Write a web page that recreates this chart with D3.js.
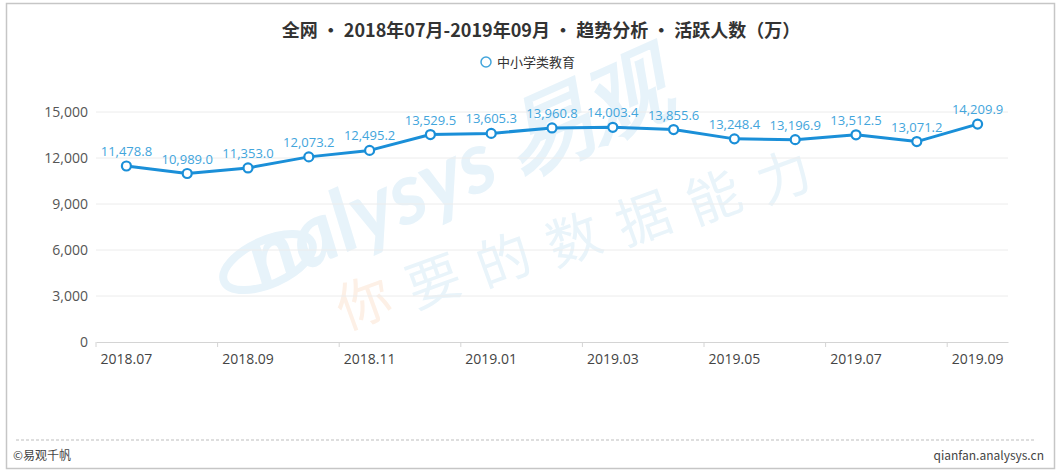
<!DOCTYPE html>
<html>
<head>
<meta charset="utf-8">
<script src="https://cdn.jsdelivr.net/npm/d3@7"></script>
<style>
  html, body { margin: 0; padding: 0; background: #fff; }
  svg { display: block; font-family: "Noto Sans CJK SC", "Noto Sans", sans-serif; }
</style>
</head>
<body>
<svg width="1061" height="475"></svg>
<script>
//  Data
const months = ['2018.07', '2018.08', '2018.09', '2018.10', '2018.11', '2018.12',
                '2019.01', '2019.02', '2019.03', '2019.04', '2019.05', '2019.06',
                '2019.07', '2019.08', '2019.09'];
const activeUsers = [11478.8, 10989.0, 11353.0, 12073.2, 12495.2, 13529.5,
                     13605.3, 13960.8, 14003.4, 13855.6, 13248.4, 13196.9,
                     13512.5, 13071.2, 14209.9];
const yTicks = [0, 3000, 6000, 9000, 12000, 15000];
const xTickLabels = ['2018.07', '2018.09', '2018.11', '2019.01', '2019.03', '2019.05', '2019.07', '2019.09'];
const seriesName = '中小学类教育';
const titleText = '全网 • 2018年07月-2019年09月 • 趋势分析 • 活跃人数（万）';

const svg = d3.select('svg');
const lineColor = '#1a8fd8';
const labelColor = '#42a5dc';

//  Frame
svg.append('rect')
    .attr('x', 6.5).attr('y', 3.5)
    .attr('width', 1048).attr('height', 465)
    .attr('fill', 'white')
    .attr('stroke', '#c6c6c6')
    .attr('stroke-width', 1.5);

//  Watermark (faint, behind everything)
const wm = svg.append('g').attr('id', 'watermark');
wm.append('text')
    .attr('transform', 'translate(262,290) rotate(-24)')
    .attr('font-size', 86)
    .attr('font-weight', 'bold')
    .attr('font-style', 'italic')
    .attr('font-family', 'Lato, sans-serif')
    .attr('fill', '#e7f3fa')
    .text('nalysys 易观');
wm.append('ellipse')
    .attr('transform', 'translate(268,262) rotate(-24)')
    .attr('rx', 48).attr('ry', 22)
    .attr('fill', 'none')
    .attr('stroke', '#e7f3fa')
    .attr('stroke-width', 8);
const slogan = '你要的数据能力'.split('');
slogan.forEach((ch, i) => {
    wm.append('text')
        .attr('transform', `translate(${345 + i * 70},${330 - i * 21}) rotate(-20)`)
        .attr('font-size', 54)
        .attr('fill', i === 0 ? '#fdf0e6' : '#e9f4fa')
        .text(ch);
});

//  Title and legend
svg.append('text')
    .attr('x', 541).attr('y', 37)
    .attr('text-anchor', 'middle')
    .attr('font-size', 18)
    .attr('font-weight', 'bold')
    .attr('fill', '#333')
    .text(titleText);

const legend = svg.append('g').attr('transform', 'translate(486,62)');
legend.append('circle')
    .attr('r', 5)
    .attr('fill', 'white')
    .attr('stroke', labelColor)
    .attr('stroke-width', 1.5);
legend.append('text')
    .attr('x', 11).attr('y', 5)
    .attr('font-size', 13)
    .attr('fill', '#333')
    .text(seriesName);

//  Scales
const x = d3.scaleBand().domain(months).range([96, 1008]).padding(0);
const y = d3.scaleLinear().domain([0, 15000]).range([342, 112]);

//  Grid
svg.append('g')
    .selectAll('line')
    .data(yTicks.filter(d => d > 0))
    .join('line')
    .attr('x1', 96).attr('x2', 1008)
    .attr('y1', d => y(d)).attr('y2', d => y(d))
    .attr('stroke', '#ececec')
    .attr('stroke-width', 1);

//  Y axis
const yAxis = svg.append('g')
    .attr('transform', 'translate(96,0)')
    .call(d3.axisLeft(y).tickValues(yTicks).tickSize(0).tickPadding(8).tickFormat(d3.format(',')));
yAxis.select('.domain').remove();
yAxis.selectAll('text')
    .attr('font-size', 14)
    .attr('fill', '#555')
    .attr('font-family', '"Open Sans", "Noto Sans", sans-serif');

//  X axis: labels every other month, ticks on the band edge
const xAxis = svg.append('g')
    .attr('transform', 'translate(0,342)')
    .call(d3.axisBottom(x).tickValues(xTickLabels).tickSize(0).tickPadding(12));
xAxis.select('.domain').attr('stroke', '#d4d4d4');
xAxis.selectAll('text')
    .attr('font-size', 14)
    .attr('fill', '#444')
    .attr('font-family', '"Open Sans", "Noto Sans", sans-serif');
xAxis.selectAll('.tick')
    .append('line')
    .attr('x1', -x.bandwidth() / 2).attr('x2', -x.bandwidth() / 2)
    .attr('y1', 0).attr('y2', 5)
    .attr('stroke', '#d4d4d4');

//  Line
const lineGen = d3.line()
    .x((d, i) => x(months[i]) + x.bandwidth() / 2)
    .y(d => y(d));

svg.append('path')
    .datum(activeUsers)
    .attr('d', lineGen)
    .attr('fill', 'none')
    .attr('stroke', lineColor)
    .attr('stroke-width', 3)
    .attr('stroke-linejoin', 'round');

svg.append('g')
    .selectAll('circle')
    .data(activeUsers)
    .join('circle')
    .attr('cx', (d, i) => x(months[i]) + x.bandwidth() / 2)
    .attr('cy', d => y(d))
    .attr('r', 4.5)
    .attr('fill', 'white')
    .attr('stroke', lineColor)
    .attr('stroke-width', 2.2);

svg.append('g')
    .selectAll('text')
    .data(activeUsers)
    .join('text')
    .attr('x', (d, i) => x(months[i]) + x.bandwidth() / 2)
    .attr('y', d => y(d) - 10)
    .attr('text-anchor', 'middle')
    .attr('font-size', 13)
    .attr('fill', labelColor)
    .attr('font-family', '"Open Sans", "Noto Sans", sans-serif')
    .text(d => d3.format(',.1f')(d));

//  Footer
svg.append('line')
    .attr('x1', 16).attr('x2', 1034)
    .attr('y1', 440).attr('y2', 440)
    .attr('stroke', '#bdbdbd')
    .attr('stroke-dasharray', '3,2');
svg.append('text')
    .attr('x', 13).attr('y', 460)
    .attr('font-size', 12)
    .attr('fill', '#444')
    .text('©易观千帆');
svg.append('text')
    .attr('x', 1044).attr('y', 460)
    .attr('text-anchor', 'end')
    .attr('font-size', 12)
    .attr('fill', '#444')
    .text('qianfan.analysys.cn');
</script>
</body>
</html>
